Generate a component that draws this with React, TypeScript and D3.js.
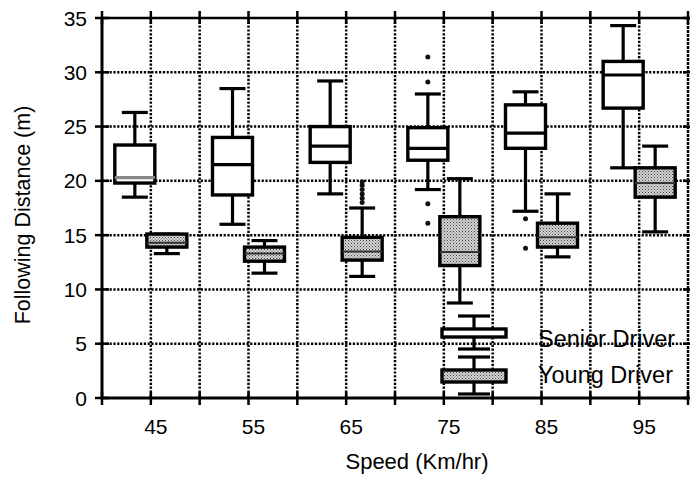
import React from "react";
import * as d3 from "d3";

const speeds = ["45", "55", "65", "75", "85", "95"];
const yTicks = [0, 5, 10, 15, 20, 25, 30, 35];

const seniorMin = [18.5, 16.0, 18.8, 19.2, 17.2, 21.2];
const seniorQ1 = [19.8, 18.7, 21.7, 21.9, 23.0, 26.7];
const seniorMedian = [20.3, 21.5, 23.2, 23.0, 24.4, 29.75];
const seniorQ3 = [23.3, 24.0, 25.0, 24.9, 27.0, 31.0];
const seniorMax = [26.3, 28.5, 29.2, 28.0, 28.2, 34.3];
const seniorOutliers = [[], [], [], [31.4, 29.1, 17.9, 16.1], [16.5, 13.8], []];

const youngMin = [13.3, 11.5, 11.2, 8.75, 13.0, 15.3];
const youngQ1 = [13.9, 12.6, 12.7, 12.2, 13.9, 18.5];
const youngMedian = [14.3, 13.3, 13.5, 13.45, 14.8, 19.8];
const youngQ3 = [15.1, 13.9, 14.8, 16.7, 16.1, 21.2];
const youngMax = [15.1, 14.5, 17.5, 20.2, 18.8, 23.2];
const youngOutliers = [[], [], [18.0, 18.4, 18.8, 19.2, 19.6, 19.9], [], [], []];

const legendLabels = ["Senior Driver", "Young Driver"];

const W = 690, H = 480;
const L = 102, R = 688, T = 18, B = 398;
const FONT = "'Liberation Sans', Arial, Helvetica, sans-serif";

export default function App() {
  const x = d3.scaleBand<string>().domain(speeds).range([L, R]).padding(0);
  const bw = x.bandwidth();
  const y = d3.scaleLinear().domain([0, 35]).range([B, T]);
  const vLines = d3.range(0, 13).map((i) => L + (i * bw) / 2);

  const boxW = 40, capW = 26, off = 16;

  const makeBox = (i: number, kind: "s" | "y") => {
    const c = x(speeds[i])! + bw / 2 + (kind === "s" ? -off : off);
    const mn = kind === "s" ? seniorMin[i] : youngMin[i];
    const q1 = kind === "s" ? seniorQ1[i] : youngQ1[i];
    const md = kind === "s" ? seniorMedian[i] : youngMedian[i];
    const q3 = kind === "s" ? seniorQ3[i] : youngQ3[i];
    const mx = kind === "s" ? seniorMax[i] : youngMax[i];
    const outs = kind === "s" ? seniorOutliers[i] : youngOutliers[i];
    const fill = kind === "s" ? "#fff" : "url(#stip)";
    const medColor = kind === "s" ? (i === 0 ? "#888" : "#000") : "#333";
    return (
      <g key={kind + i}>
        <line x1={c} x2={c} y1={y(mx)} y2={y(q3)} stroke="#000" strokeWidth={3.2} />
        <line x1={c} x2={c} y1={y(q1)} y2={y(mn)} stroke="#000" strokeWidth={3.2} />
        <line x1={c - capW / 2} x2={c + capW / 2} y1={y(mx)} y2={y(mx)} stroke="#000" strokeWidth={3.2} />
        <line x1={c - capW / 2} x2={c + capW / 2} y1={y(mn)} y2={y(mn)} stroke="#000" strokeWidth={3.2} />
        <rect x={c - boxW / 2} y={y(q3)} width={boxW} height={y(q1) - y(q3)} fill={fill} stroke="#000" strokeWidth={3.4} />
        <line x1={c - boxW / 2} x2={c + boxW / 2} y1={y(md)} y2={y(md)} stroke={medColor} strokeWidth={kind === "s" ? 3.2 : 2} />
        {outs.map((v, j) => (
          <circle key={j} cx={c} cy={y(v)} r={2.5} fill="#111" />
        ))}
      </g>
    );
  };

  const legendBox = (cy: number, ty: number, kind: "s" | "y", label: string) => {
    const c = 474;
    const bh = kind === "s" ? 8 : 12;
    return (
      <g key={label}>
        <line x1={c} x2={c} y1={cy - bh / 2 - 13} y2={cy + bh / 2 + 12} stroke="#000" strokeWidth={3.2} />
        <line x1={c - 16} x2={c + 16} y1={cy - bh / 2 - 13} y2={cy - bh / 2 - 13} stroke="#000" strokeWidth={3.2} />
        <line x1={c - 16} x2={c + 16} y1={cy + bh / 2 + 12} y2={cy + bh / 2 + 12} stroke="#000" strokeWidth={3.2} />
        <rect x={c - 32} y={cy - bh / 2} width={64} height={bh} fill={kind === "s" ? "#fff" : "url(#stip)"} stroke="#000" strokeWidth={3.4} />
        <text x={538} y={ty} fontSize={23.5} fontFamily={FONT} fill="#000">{label}</text>
      </g>
    );
  };

  return (
    <svg width={W} height={H} style={{ position: "absolute", left: 0, top: 0, background: "#fff" }}>
      <defs>
        <pattern id="stip" width="3" height="3" patternUnits="userSpaceOnUse">
          <rect width="3" height="3" fill="#d2d2d2" />
          <rect width="1" height="1" fill="#444" />
          <rect x="1.5" y="1.5" width="1" height="1" fill="#666" />
        </pattern>
      </defs>
      <rect x={0} y={0} width={W} height={H} fill="#fff" />
      {/* grid */}
      {yTicks.filter((v) => v > 0 && v < 35).map((v) => (
        <line key={"h" + v} x1={L} x2={R} y1={y(v)} y2={y(v)} stroke="#000" strokeWidth={2.5} strokeDasharray="2.2,1.6" />
      ))}
      {vLines.slice(1, 12).map((vx, i) => (
        <line key={"v" + i} x1={vx} x2={vx} y1={T} y2={B} stroke="#000" strokeWidth={2.5} strokeDasharray="2.2,1.6" />
      ))}
      {/* boxes */}
      {speeds.map((_, i) => makeBox(i, "s"))}
      {speeds.map((_, i) => makeBox(i, "y"))}
      {/* frame */}
      <line x1={L} x2={R} y1={T} y2={T} stroke="#000" strokeWidth={2.5} />
      <line x1={L} x2={R} y1={B} y2={B} stroke="#000" strokeWidth={3} />
      <line x1={L} x2={L} y1={T} y2={B} stroke="#000" strokeWidth={3} />
      <line x1={R} x2={R} y1={T} y2={B} stroke="#000" strokeWidth={2.5} strokeDasharray="3,1" />
      {/* ticks */}
      {yTicks.map((v) => (
        <g key={"yt" + v}>
          <line x1={L - 7} x2={L + 7} y1={y(v)} y2={y(v)} stroke="#000" strokeWidth={2.5} />
          <line x1={R - 5} x2={R + 5} y1={y(v)} y2={y(v)} stroke="#000" strokeWidth={2.5} />
          <text x={87} y={y(v)} dy="0.36em" textAnchor="end" fontSize={21} fontFamily={FONT} fill="#000">{v}</text>
        </g>
      ))}
      {vLines.map((vx, i) => (
        <g key={"xt" + i}>
          <line x1={vx} x2={vx} y1={B - 6} y2={B + 7} stroke="#000" strokeWidth={2.5} />
          <line x1={vx} x2={vx} y1={T - 7} y2={T + 6} stroke="#000" strokeWidth={2.5} />
        </g>
      ))}
      {speeds.map((s) => (
        <text key={"xl" + s} x={x(s)! + bw / 2 + 5} y={434} textAnchor="middle" fontSize={21} fontFamily={FONT} fill="#000">{s}</text>
      ))}
      {/* legend */}
      {legendBox(333, 347, "s", legendLabels[0])}
      {legendBox(376, 383, "y", legendLabels[1])}
      {/* axis titles */}
      <text x={417} y={469} textAnchor="middle" fontSize={22} fontFamily={FONT} fill="#000">Speed (Km/hr)</text>
      <text transform="translate(30,215) rotate(-90)" textAnchor="middle" fontSize={21.5} fontFamily={FONT} fill="#000">Following Distance (m)</text>
    </svg>
  );
}
